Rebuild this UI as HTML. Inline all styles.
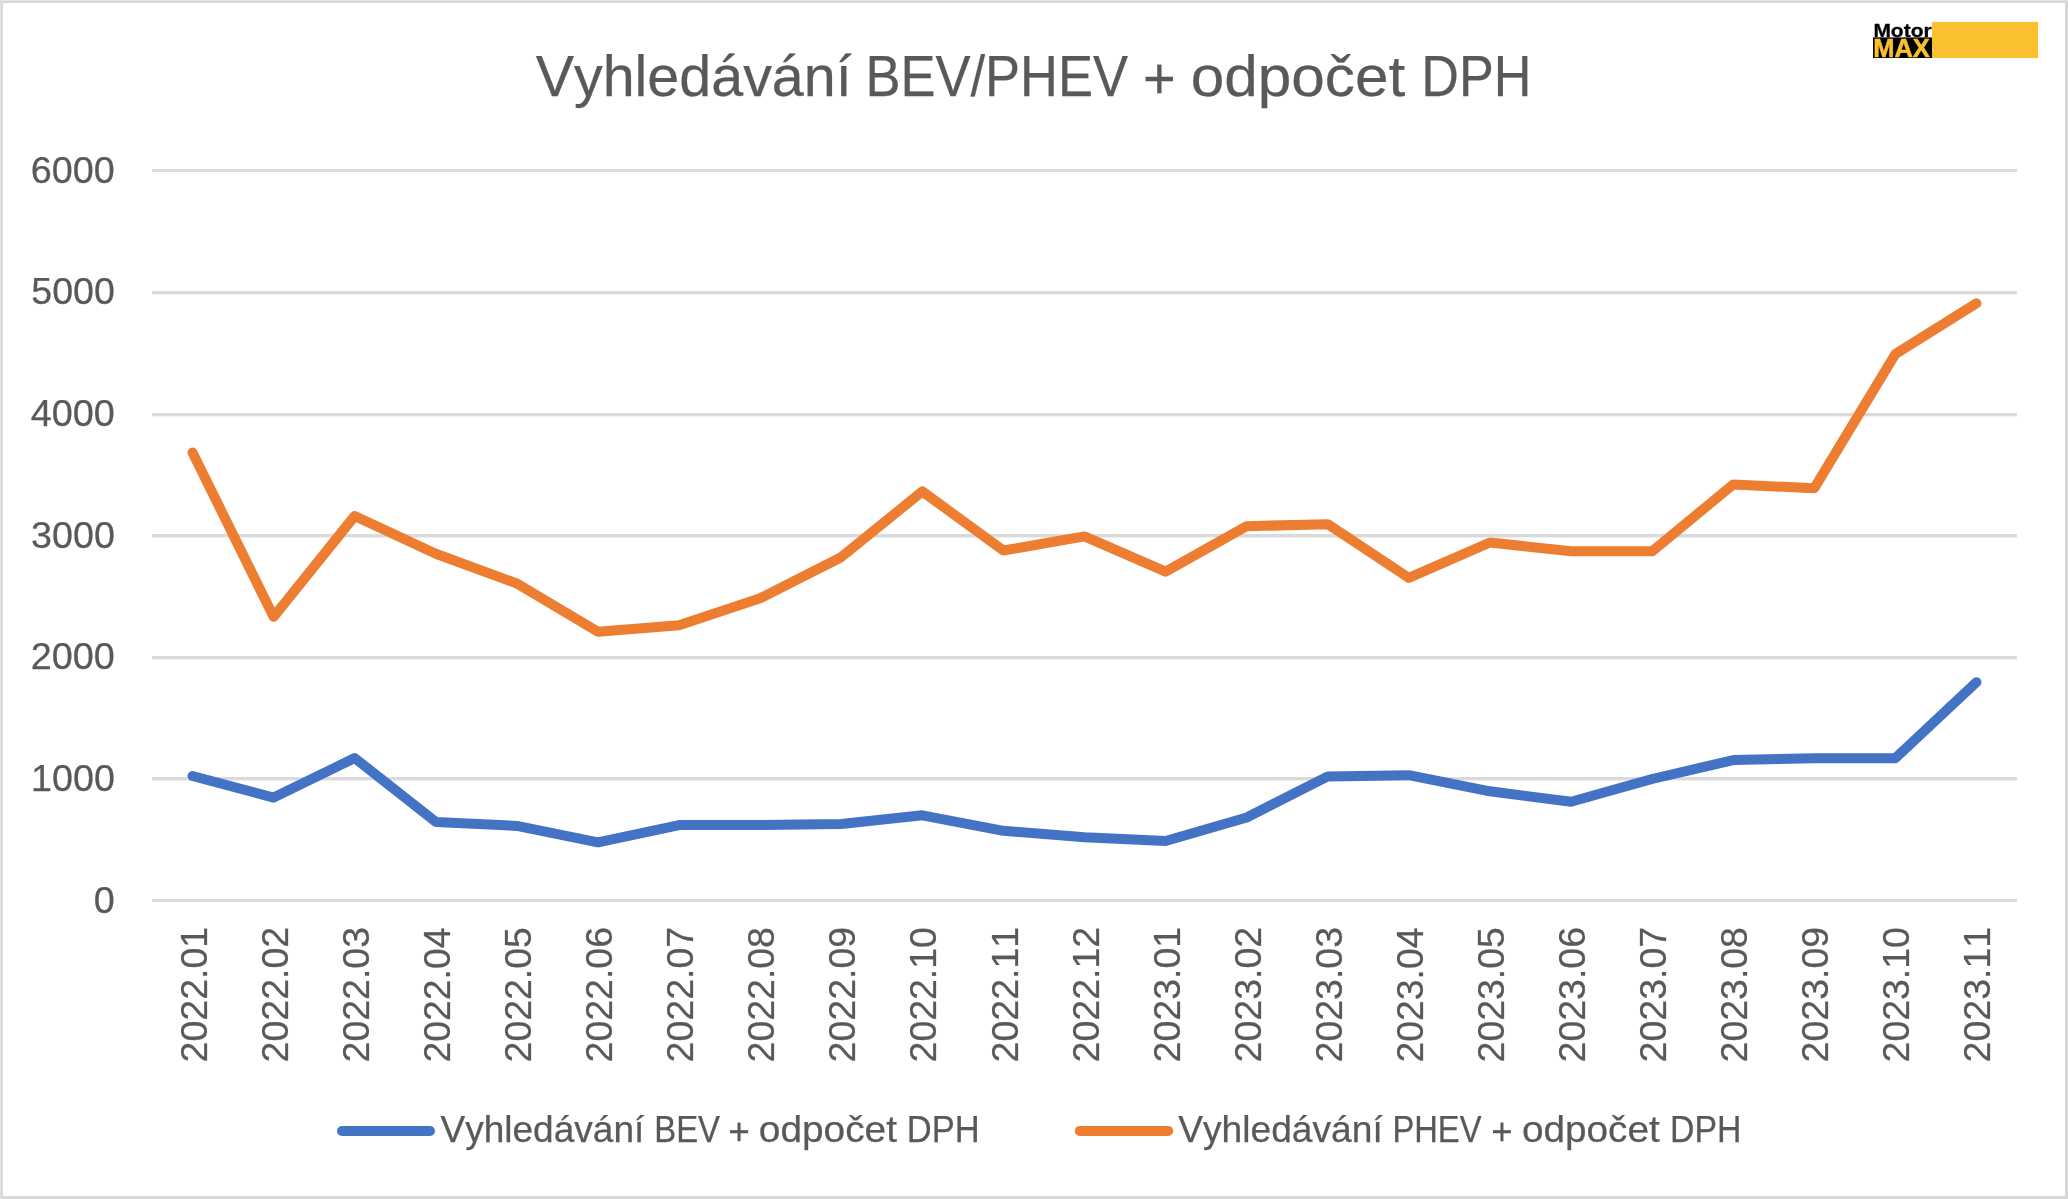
<!DOCTYPE html>
<html lang="cs">
<head>
<meta charset="utf-8">
<title>Vyhledávání BEV/PHEV + odpočet DPH</title>
<style>
html,body{margin:0;padding:0;background:#fff;}
body{width:2068px;height:1199px;overflow:hidden;position:relative;font-family:"Liberation Sans",sans-serif;}
#frame{position:absolute;left:0;top:0;width:2068px;height:1199px;background:#d8d8d8;box-shadow:inset 1px 1px 0 #e3e3e3;}
#inner{position:absolute;left:3px;top:3px;width:2062px;height:1193px;background:#fff;}
svg{position:absolute;left:0;top:0;will-change:transform;}
text{font-family:"Liberation Sans",sans-serif;fill:#595959;font-kerning:none;stroke:#595959;stroke-width:0.25px;}
</style>
</head>
<body>
<div id="frame"><div id="inner"></div></div>
<svg width="2068" height="1199" viewBox="0 0 2068 1199">
<g shape-rendering="crispEdges">
<rect x="152" y="169" width="1865" height="3" fill="#dadada"/>
<rect x="152" y="291" width="1865" height="3" fill="#dadada"/>
<rect x="152" y="294" width="1865" height="1" fill="#f1f1f1"/>
<rect x="152" y="413" width="1865" height="3" fill="#dadada"/>
<rect x="152" y="416" width="1865" height="1" fill="#f1f1f1"/>
<rect x="152" y="534" width="1865" height="3" fill="#dadada"/>
<rect x="152" y="537" width="1865" height="1" fill="#f1f1f1"/>
<rect x="152" y="656" width="1865" height="3" fill="#dadada"/>
<rect x="152" y="659" width="1865" height="1" fill="#f1f1f1"/>
<rect x="152" y="777" width="1865" height="3" fill="#dadada"/>
<rect x="152" y="780" width="1865" height="1" fill="#f1f1f1"/>
<rect x="152" y="899" width="1865" height="3" fill="#dadada"/>
</g>
<polyline fill="none" stroke="#4472c4" stroke-width="10" stroke-linecap="round" stroke-linejoin="round" points="192.5,776.0 273.6,797.6 354.7,758.1 435.8,821.9 516.9,825.9 598.0,842.4 679.1,825.1 760.2,825.1 841.2,824.0 922.3,815.3 1003.4,830.8 1084.5,837.2 1165.6,841.0 1246.7,817.5 1327.8,776.4 1408.8,775.2 1489.9,791.3 1571.0,801.7 1652.1,779.0 1733.2,760.1 1814.3,758.2 1895.4,758.2 1976.5,682.2"/>
<polyline fill="none" stroke="#ed7d31" stroke-width="10" stroke-linecap="round" stroke-linejoin="round" points="192.5,452.5 273.6,616.8 354.7,516.0 435.8,553.8 516.9,583.5 598.0,631.7 679.1,625.2 760.2,598.3 841.2,557.2 922.3,491.4 1003.4,550.5 1084.5,536.4 1165.6,571.6 1246.7,526.2 1327.8,524.2 1408.8,577.8 1489.9,542.5 1571.0,551.2 1652.1,551.3 1733.2,484.5 1814.3,488.2 1895.4,354.0 1976.5,303.3"/>
<text x="535.65" y="95.70" font-size="58" textLength="316.03" lengthAdjust="spacingAndGlyphs">Vyhledávání</text>
<text x="865.39" y="95.70" font-size="58" textLength="262.54" lengthAdjust="spacingAndGlyphs">BEV/PHEV</text>
<text x="1142.97" y="97.70" font-size="58" textLength="32.69" lengthAdjust="spacingAndGlyphs">+</text>
<text x="1190.87" y="95.70" font-size="58" textLength="214.37" lengthAdjust="spacingAndGlyphs">odpočet</text>
<text x="1421.22" y="95.70" font-size="58" textLength="110.13" lengthAdjust="spacingAndGlyphs">DPH</text>
<text x="93.88" y="912.50" font-size="37.5" textLength="21.00" lengthAdjust="spacingAndGlyphs">0</text>
<text x="31.13" y="790.83" font-size="37.5" textLength="83.74" lengthAdjust="spacingAndGlyphs">1000</text>
<text x="30.70" y="669.17" font-size="37.5" textLength="84.18" lengthAdjust="spacingAndGlyphs">2000</text>
<text x="31.07" y="547.50" font-size="37.5" textLength="83.81" lengthAdjust="spacingAndGlyphs">3000</text>
<text x="30.73" y="425.83" font-size="37.5" textLength="84.15" lengthAdjust="spacingAndGlyphs">4000</text>
<text x="31.30" y="304.17" font-size="37.5" textLength="83.57" lengthAdjust="spacingAndGlyphs">5000</text>
<text x="30.88" y="182.50" font-size="37.5" textLength="83.99" lengthAdjust="spacingAndGlyphs">6000</text>
<text transform="translate(207.20,1060.5) rotate(-90)" x="-1.89" y="0" font-size="37.5" textLength="135.52" lengthAdjust="spacingAndGlyphs">2022.01</text>
<text transform="translate(288.23,1060.5) rotate(-90)" x="-1.89" y="0" font-size="37.5" textLength="135.57" lengthAdjust="spacingAndGlyphs">2022.02</text>
<text transform="translate(369.26,1060.5) rotate(-90)" x="-1.88" y="0" font-size="37.5" textLength="135.33" lengthAdjust="spacingAndGlyphs">2022.03</text>
<text transform="translate(450.29,1060.5) rotate(-90)" x="-1.88" y="0" font-size="37.5" textLength="134.77" lengthAdjust="spacingAndGlyphs">2022.04</text>
<text transform="translate(531.32,1060.5) rotate(-90)" x="-1.88" y="0" font-size="37.5" textLength="135.25" lengthAdjust="spacingAndGlyphs">2022.05</text>
<text transform="translate(612.35,1060.5) rotate(-90)" x="-1.88" y="0" font-size="37.5" textLength="135.33" lengthAdjust="spacingAndGlyphs">2022.06</text>
<text transform="translate(693.38,1060.5) rotate(-90)" x="-1.89" y="0" font-size="37.5" textLength="135.57" lengthAdjust="spacingAndGlyphs">2022.07</text>
<text transform="translate(774.41,1060.5) rotate(-90)" x="-1.88" y="0" font-size="37.5" textLength="135.31" lengthAdjust="spacingAndGlyphs">2022.08</text>
<text transform="translate(855.44,1060.5) rotate(-90)" x="-1.88" y="0" font-size="37.5" textLength="135.46" lengthAdjust="spacingAndGlyphs">2022.09</text>
<text transform="translate(936.47,1060.5) rotate(-90)" x="-1.88" y="0" font-size="37.5" textLength="135.14" lengthAdjust="spacingAndGlyphs">2022.10</text>
<text transform="translate(1017.50,1060.5) rotate(-90)" x="-1.89" y="0" font-size="37.5" textLength="135.52" lengthAdjust="spacingAndGlyphs">2022.11</text>
<text transform="translate(1098.53,1060.5) rotate(-90)" x="-1.89" y="0" font-size="37.5" textLength="135.57" lengthAdjust="spacingAndGlyphs">2022.12</text>
<text transform="translate(1179.56,1060.5) rotate(-90)" x="-1.89" y="0" font-size="37.5" textLength="135.52" lengthAdjust="spacingAndGlyphs">2023.01</text>
<text transform="translate(1260.59,1060.5) rotate(-90)" x="-1.89" y="0" font-size="37.5" textLength="135.57" lengthAdjust="spacingAndGlyphs">2023.02</text>
<text transform="translate(1341.62,1060.5) rotate(-90)" x="-1.88" y="0" font-size="37.5" textLength="135.33" lengthAdjust="spacingAndGlyphs">2023.03</text>
<text transform="translate(1422.65,1060.5) rotate(-90)" x="-1.88" y="0" font-size="37.5" textLength="134.77" lengthAdjust="spacingAndGlyphs">2023.04</text>
<text transform="translate(1503.68,1060.5) rotate(-90)" x="-1.88" y="0" font-size="37.5" textLength="135.25" lengthAdjust="spacingAndGlyphs">2023.05</text>
<text transform="translate(1584.71,1060.5) rotate(-90)" x="-1.88" y="0" font-size="37.5" textLength="135.33" lengthAdjust="spacingAndGlyphs">2023.06</text>
<text transform="translate(1665.74,1060.5) rotate(-90)" x="-1.89" y="0" font-size="37.5" textLength="135.57" lengthAdjust="spacingAndGlyphs">2023.07</text>
<text transform="translate(1746.77,1060.5) rotate(-90)" x="-1.88" y="0" font-size="37.5" textLength="135.31" lengthAdjust="spacingAndGlyphs">2023.08</text>
<text transform="translate(1827.80,1060.5) rotate(-90)" x="-1.88" y="0" font-size="37.5" textLength="135.46" lengthAdjust="spacingAndGlyphs">2023.09</text>
<text transform="translate(1908.83,1060.5) rotate(-90)" x="-1.88" y="0" font-size="37.5" textLength="135.14" lengthAdjust="spacingAndGlyphs">2023.10</text>
<text transform="translate(1989.86,1060.5) rotate(-90)" x="-1.89" y="0" font-size="37.5" textLength="135.52" lengthAdjust="spacingAndGlyphs">2023.11</text>
<line x1="342" x2="430" y1="1131" y2="1131" stroke="#4472c4" stroke-width="10" stroke-linecap="round"/>
<text x="440.44" y="1142.30" font-size="37" textLength="203.94" lengthAdjust="spacingAndGlyphs">Vyhledávání</text>
<text x="654.30" y="1142.30" font-size="37" textLength="65.74" lengthAdjust="spacingAndGlyphs">BEV</text>
<text x="728.19" y="1144.10" font-size="37" textLength="21.64" lengthAdjust="spacingAndGlyphs">+</text>
<text x="758.87" y="1142.30" font-size="37" textLength="138.11" lengthAdjust="spacingAndGlyphs">odpočet</text>
<text x="906.87" y="1142.30" font-size="37" textLength="72.84" lengthAdjust="spacingAndGlyphs">DPH</text>
<line x1="1079.8" x2="1168.2" y1="1131" y2="1131" stroke="#ed7d31" stroke-width="10" stroke-linecap="round"/>
<text x="1178.24" y="1142.30" font-size="37" textLength="204.54" lengthAdjust="spacingAndGlyphs">Vyhledávání</text>
<text x="1392.42" y="1142.30" font-size="37" textLength="89.03" lengthAdjust="spacingAndGlyphs">PHEV</text>
<text x="1491.31" y="1144.10" font-size="37" textLength="21.40" lengthAdjust="spacingAndGlyphs">+</text>
<text x="1521.98" y="1142.30" font-size="37" textLength="137.71" lengthAdjust="spacingAndGlyphs">odpočet</text>
<text x="1670.03" y="1142.30" font-size="37" textLength="71.33" lengthAdjust="spacingAndGlyphs">DPH</text>
<rect x="1932" y="22" width="106" height="36" fill="#fbc02d"/>
<rect x="1873" y="37.4" width="59" height="20.6" fill="#000"/>
<text x="1873.40" y="36.60" font-size="18.6" textLength="58.22" lengthAdjust="spacingAndGlyphs" font-weight="bold" style="fill:#000;stroke:#000;stroke-width:0.3px">Motor</text>
<text x="1873.20" y="56.60" font-size="25" textLength="56.63" lengthAdjust="spacingAndGlyphs" font-weight="bold" style="fill:#fbc02d;stroke:#fbc02d;stroke-width:0.5px">MAX</text>
</svg>
</body>
</html>
